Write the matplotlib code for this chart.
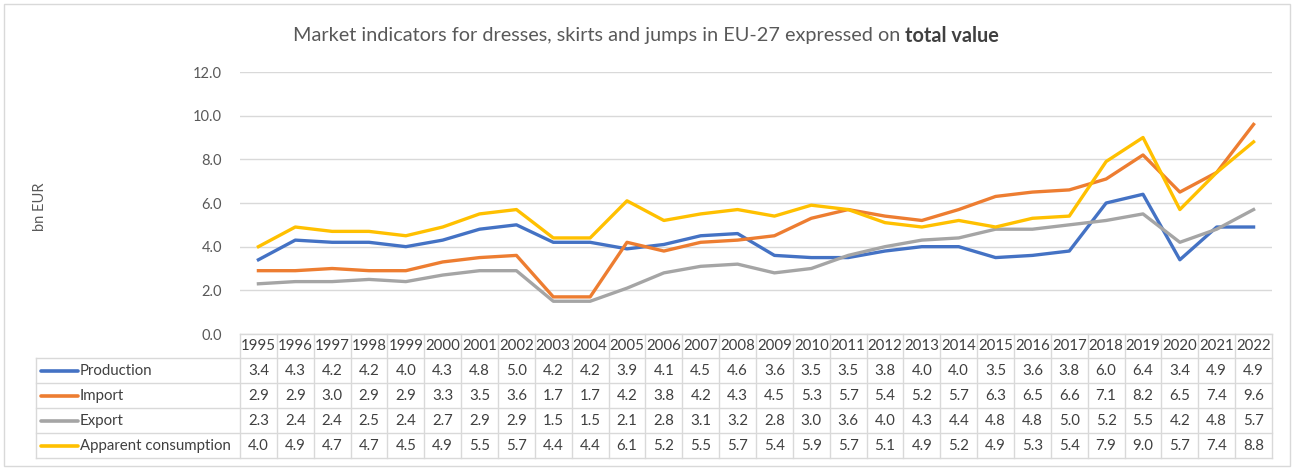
import matplotlib.pyplot as plt
from matplotlib.patches import Rectangle
from matplotlib.transforms import blended_transform_factory

plt.rcParams['font.family'] = ['Lato', 'DejaVu Sans']

# Data (bn EUR)
years = [str(y) for y in range(1995, 2023)]
production = [3.4, 4.3, 4.2, 4.2, 4.0, 4.3, 4.8, 5.0, 4.2, 4.2, 3.9, 4.1, 4.5, 4.6,
              3.6, 3.5, 3.5, 3.8, 4.0, 4.0, 3.5, 3.6, 3.8, 6.0, 6.4, 3.4, 4.9, 4.9]
imports = [2.9, 2.9, 3.0, 2.9, 2.9, 3.3, 3.5, 3.6, 1.7, 1.7, 4.2, 3.8, 4.2, 4.3,
           4.5, 5.3, 5.7, 5.4, 5.2, 5.7, 6.3, 6.5, 6.6, 7.1, 8.2, 6.5, 7.4, 9.6]
exports = [2.3, 2.4, 2.4, 2.5, 2.4, 2.7, 2.9, 2.9, 1.5, 1.5, 2.1, 2.8, 3.1, 3.2,
           2.8, 3.0, 3.6, 4.0, 4.3, 4.4, 4.8, 4.8, 5.0, 5.2, 5.5, 4.2, 4.8, 5.7]
consumption = [4.0, 4.9, 4.7, 4.7, 4.5, 4.9, 5.5, 5.7, 4.4, 4.4, 6.1, 5.2, 5.5, 5.7,
               5.4, 5.9, 5.7, 5.1, 4.9, 5.2, 4.9, 5.3, 5.4, 7.9, 9.0, 5.7, 7.4, 8.8]

series_names = ['Production', 'Import', 'Export', 'Apparent consumption']
series_values = [production, imports, exports, consumption]
colors = ['#4472C4', '#ED7D31', '#A5A5A5', '#FFC000']

W, H = 1304, 469
fig = plt.figure(figsize=(W / 100, H / 100), dpi=100)

# outer chart border
fig.patches.append(Rectangle((4 / W, 3 / H), 1286 / W, 462 / H, transform=fig.transFigure,
                             fill=False, edgecolor='#D9D9D9', linewidth=1))

x0, x1 = 240, 1272
y_top, y_bot = 72, 334
ax = fig.add_axes([x0 / W, 1 - y_bot / H, (x1 - x0) / W, (y_bot - y_top) / H])

xs = list(range(len(years)))
for name, vals, c in zip(series_names, series_values, colors):
    ax.plot(xs, vals, color=c, linewidth=2.4, solid_joinstyle='round', zorder=3)

ax.set_xlim(-0.5, len(years) - 0.5)
ax.set_ylim(0, 12)
ax.set_yticks([0, 2, 4, 6, 8, 10, 12])
ax.set_yticklabels([f'{v:.1f}' for v in [0, 2, 4, 6, 8, 10, 12]])
ax.tick_params(axis='y', length=0, pad=13, labelsize=10.5, labelcolor='#595959')
ax.set_xticks([])
ax.grid(axis='y', color='#D9D9D9', linewidth=1)
ax.set_axisbelow(True)
for s in ax.spines.values():
    s.set_visible(False)

fig.text(40 / W, 1 - 207 / H, 'bn EUR', rotation=90, ha='center', va='center',
         fontsize=10.5, color='#595959')

# title: regular part followed by bold part
t1 = fig.text(293 / W, 1 - 36 / H,
              'Market indicators for dresses, skirts and jumps in EU-27 expressed on ',
              ha='left', va='center', fontsize=14.3, color='#595959')
fig.canvas.draw()
ext = t1.get_window_extent()
fig.text(ext.x1 / W, 1 - 36 / H, 'total value', ha='left', va='center', fontsize=14.3,
         color='#404040', fontweight='bold')

# data table below the plot
tr = blended_transform_factory(ax.transData, fig.transFigure)
fy = lambda py: 1 - py / H
fx = lambda px: px / W
grid_kw = dict(color='#D9D9D9', linewidth=1, clip_on=False)
row_edges = [334, 358, 383, 408, 433, 458]
tfs = 10.8

# horizontal lines
ax.plot([-0.5, len(years) - 0.5], [fy(row_edges[0])] * 2, transform=tr, **grid_kw)
for py in row_edges[1:]:
    fig.add_artist(plt.Line2D([fx(36), fx(x1)], [fy(py)] * 2, **grid_kw))
# vertical lines
for i in range(len(years) + 1):
    ax.plot([i - 0.5, i - 0.5], [fy(row_edges[0]), fy(row_edges[-1])], transform=tr, **grid_kw)
fig.add_artist(plt.Line2D([fx(36), fx(36)], [fy(row_edges[1]), fy(row_edges[-1])], **grid_kw))

for i, yr in enumerate(years):
    ax.text(i, fy((row_edges[0] + row_edges[1]) / 2), yr, transform=tr, ha='center',
            va='center', fontsize=tfs, color='#404040')

for r, (name, vals, c) in enumerate(zip(series_names, series_values, colors)):
    yc = fy((row_edges[r + 1] + row_edges[r + 2]) / 2)
    fig.add_artist(plt.Line2D([fx(41), fx(78)], [yc, yc], color=c, linewidth=2.6,
                              solid_capstyle='round'))
    fig.text(fx(80), yc, name, ha='left', va='center', fontsize=tfs, color='#404040')
    for i, v in enumerate(vals):
        ax.text(i, yc, f'{v:.1f}', transform=tr, ha='center', va='center',
                fontsize=tfs, color='#404040')

fig.savefig('out.png', dpi=100)
